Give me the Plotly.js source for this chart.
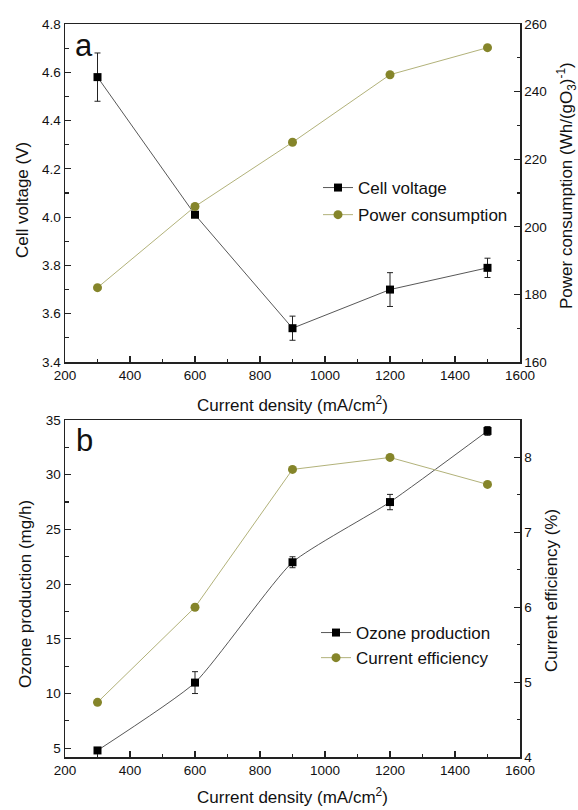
<!DOCTYPE html>
<html>
<head>
<meta charset="utf-8">
<script src="https://cdn.plot.ly/plotly-3.0.1.min.js"></script>
<style>html,body{margin:0;padding:0;background:#fff;}#chart{width:578px;height:810px;}</style>
</head>
<body>
<div id="chart"></div>
<script>
// ---- Data ----
const currentDensity = [300, 600, 900, 1200, 1500];
const cellVoltage = [4.58, 4.01, 3.54, 3.70, 3.79];
const cellVoltageErr = [0.10, 0.01, 0.05, 0.07, 0.04];
const powerConsumption = [182, 206, 225, 245, 253];
const ozoneProduction = [4.8, 11.0, 22.0, 27.5, 34.0];
const ozoneProductionErr = [0.2, 1.0, 0.5, 0.7, 0.4];
const currentEfficiency = [4.73, 6.0, 7.84, 8.0, 7.64];

const xTitle = 'Current density (mA/cm<sup>2</sup>)';
const yTitleA = 'Cell voltage (V)';
const y2TitleA = 'Power consumption (Wh/(gO<sub>3</sub>)<sup>-1</sup>)';
const yTitleB = 'Ozone production (mg/h)';
const y2TitleB = 'Current efficiency (%)';

const FONT = 'Liberation Sans, Arial, sans-serif';
const OLIVE = '#85852a';
const OLIVE_LINE = '#b2b27a';
const BLACK = '#000000';

const traces = [
  {x: currentDensity, y: cellVoltage, name: 'Cell voltage', xaxis: 'x', yaxis: 'y',
   mode: 'lines+markers', line: {color: '#444', width: 0.9},
   marker: {symbol: 'square', size: 8, color: BLACK},
   error_y: {type: 'data', array: cellVoltageErr, visible: true, color: '#222', thickness: 1, width: 3},
   legend: 'legend', legendgroup: 'a1'},
  {x: currentDensity, y: powerConsumption, name: 'Power consumption', xaxis: 'x', yaxis: 'y2',
   mode: 'lines+markers', line: {color: OLIVE_LINE, width: 1},
   marker: {symbol: 'circle', size: 9, color: OLIVE},
   legend: 'legend', legendgroup: 'a2'},
  {x: currentDensity, y: ozoneProduction, name: 'Ozone production', xaxis: 'x2', yaxis: 'y3',
   mode: 'lines+markers', line: {color: '#444', width: 0.9, shape: 'spline', smoothing: 0.5},
   marker: {symbol: 'square', size: 8, color: BLACK},
   error_y: {type: 'data', array: ozoneProductionErr, visible: true, color: '#222', thickness: 1, width: 3},
   legend: 'legend2', legendgroup: 'b1'},
  {x: currentDensity, y: currentEfficiency, name: 'Current efficiency', xaxis: 'x2', yaxis: 'y4',
   mode: 'lines+markers', line: {color: OLIVE_LINE, width: 1},
   marker: {symbol: 'circle', size: 9, color: OLIVE},
   legend: 'legend2', legendgroup: 'b2'}
];

const H = 810, L = 65, PW = 455;
const topDom = [1 - 362/H, 1 - 24/H];
const botDom = [1 - 757/H, 1 - 420/H];
const px = v => (v - L) / PW;
const py = v => 1 - v / H;

function xax(anchor) {
  return {
    anchor: anchor, domain: [0, 1], range: [200, 1600], dtick: 200, tick0: 200,
    ticks: 'inside', ticklen: 6, tickwidth: 1.2, tickcolor: '#222',
    minor: {ticks: 'inside', ticklen: 3.5, dtick: 100, tickwidth: 1, tickcolor: '#222'},
    showline: true, linecolor: '#222', linewidth: 1.5, mirror: true,
    showgrid: false, zeroline: false, automargin: false,
    tickfont: {family: FONT, size: 13.5, color: '#111'}
  };
}
function yax(o) {
  return Object.assign({
    ticks: 'inside', ticklen: 6, tickwidth: 1.2, tickcolor: '#222',
    showline: true, linecolor: '#222', linewidth: 1.5,
    showgrid: false, zeroline: false, automargin: false,
    tickfont: {family: FONT, size: 13.5, color: '#111'}
  }, o);
}
function ttl(text, x, y, angle) {
  return {text: text, xref: 'paper', yref: 'paper', x: px(x), y: py(y), showarrow: false,
    textangle: angle, xanchor: 'center', yanchor: 'middle',
    font: {family: FONT, size: 17, color: '#111'}};
}

const layout = {
  width: 578, height: 810,
  margin: {l: 65, r: 58, t: 0, b: 0},
  paper_bgcolor: '#fff', plot_bgcolor: '#fff',
  font: {family: FONT, color: '#111'},
  xaxis: xax('y'),
  xaxis2: xax('y3'),
  yaxis: yax({domain: topDom, anchor: 'x', range: [3.4, 4.8], dtick: 0.2, tickformat: '.1f',
    minor: {ticks: 'inside', ticklen: 3.5, dtick: 0.1, tickcolor: '#222'}}),
  yaxis2: yax({domain: topDom, anchor: 'x', overlaying: 'y', side: 'right', range: [160, 260], dtick: 20,
    minor: {ticks: 'inside', ticklen: 3.5, dtick: 10, tickcolor: '#222'}}),
  yaxis3: yax({domain: botDom, anchor: 'x2', range: [4.2, 35], tickvals: [5, 10, 15, 20, 25, 30, 35],
    minor: {ticks: 'inside', ticklen: 3.5, tickvals: [7.5, 12.5, 17.5, 22.5, 27.5, 32.5], tickcolor: '#222'}}),
  yaxis4: yax({domain: botDom, anchor: 'x2', overlaying: 'y3', side: 'right', range: [4, 8.5], dtick: 1,
    minor: {ticks: 'inside', ticklen: 3.5, dtick: 0.5, tickcolor: '#222'}}),
  showlegend: true,
  legend: {x: px(318), y: py(170), xanchor: 'left', yanchor: 'top',
    bgcolor: 'rgba(0,0,0,0)', font: {family: FONT, size: 17, color: '#111'},
    traceorder: 'grouped', tracegroupgap: 2},
  legend2: {x: px(316), y: py(615), xanchor: 'left', yanchor: 'top',
    bgcolor: 'rgba(0,0,0,0)', font: {family: FONT, size: 17, color: '#111'},
    traceorder: 'grouped', tracegroupgap: 0},
  annotations: [
    {text: 'a', xref: 'paper', yref: 'paper', x: px(84), y: py(45), showarrow: false,
     font: {family: FONT, size: 31, color: '#111'}, xanchor: 'center', yanchor: 'middle'},
    {text: 'b', xref: 'paper', yref: 'paper', x: px(84), y: py(441), showarrow: false,
     font: {family: FONT, size: 31, color: '#111'}, xanchor: 'center', yanchor: 'middle'},
    ttl(xTitle, 292, 404, 0),
    ttl(xTitle, 292, 796, 0),
    ttl(yTitleA, 22, 200, -90),
    ttl(y2TitleA, 566, 186, -90),
    ttl(yTitleB, 25, 594, -90),
    ttl(y2TitleB, 551, 591, -90)
  ]
};

Plotly.newPlot('chart', traces, layout, {displayModeBar: false, staticPlot: true});
</script>
</body>
</html>
